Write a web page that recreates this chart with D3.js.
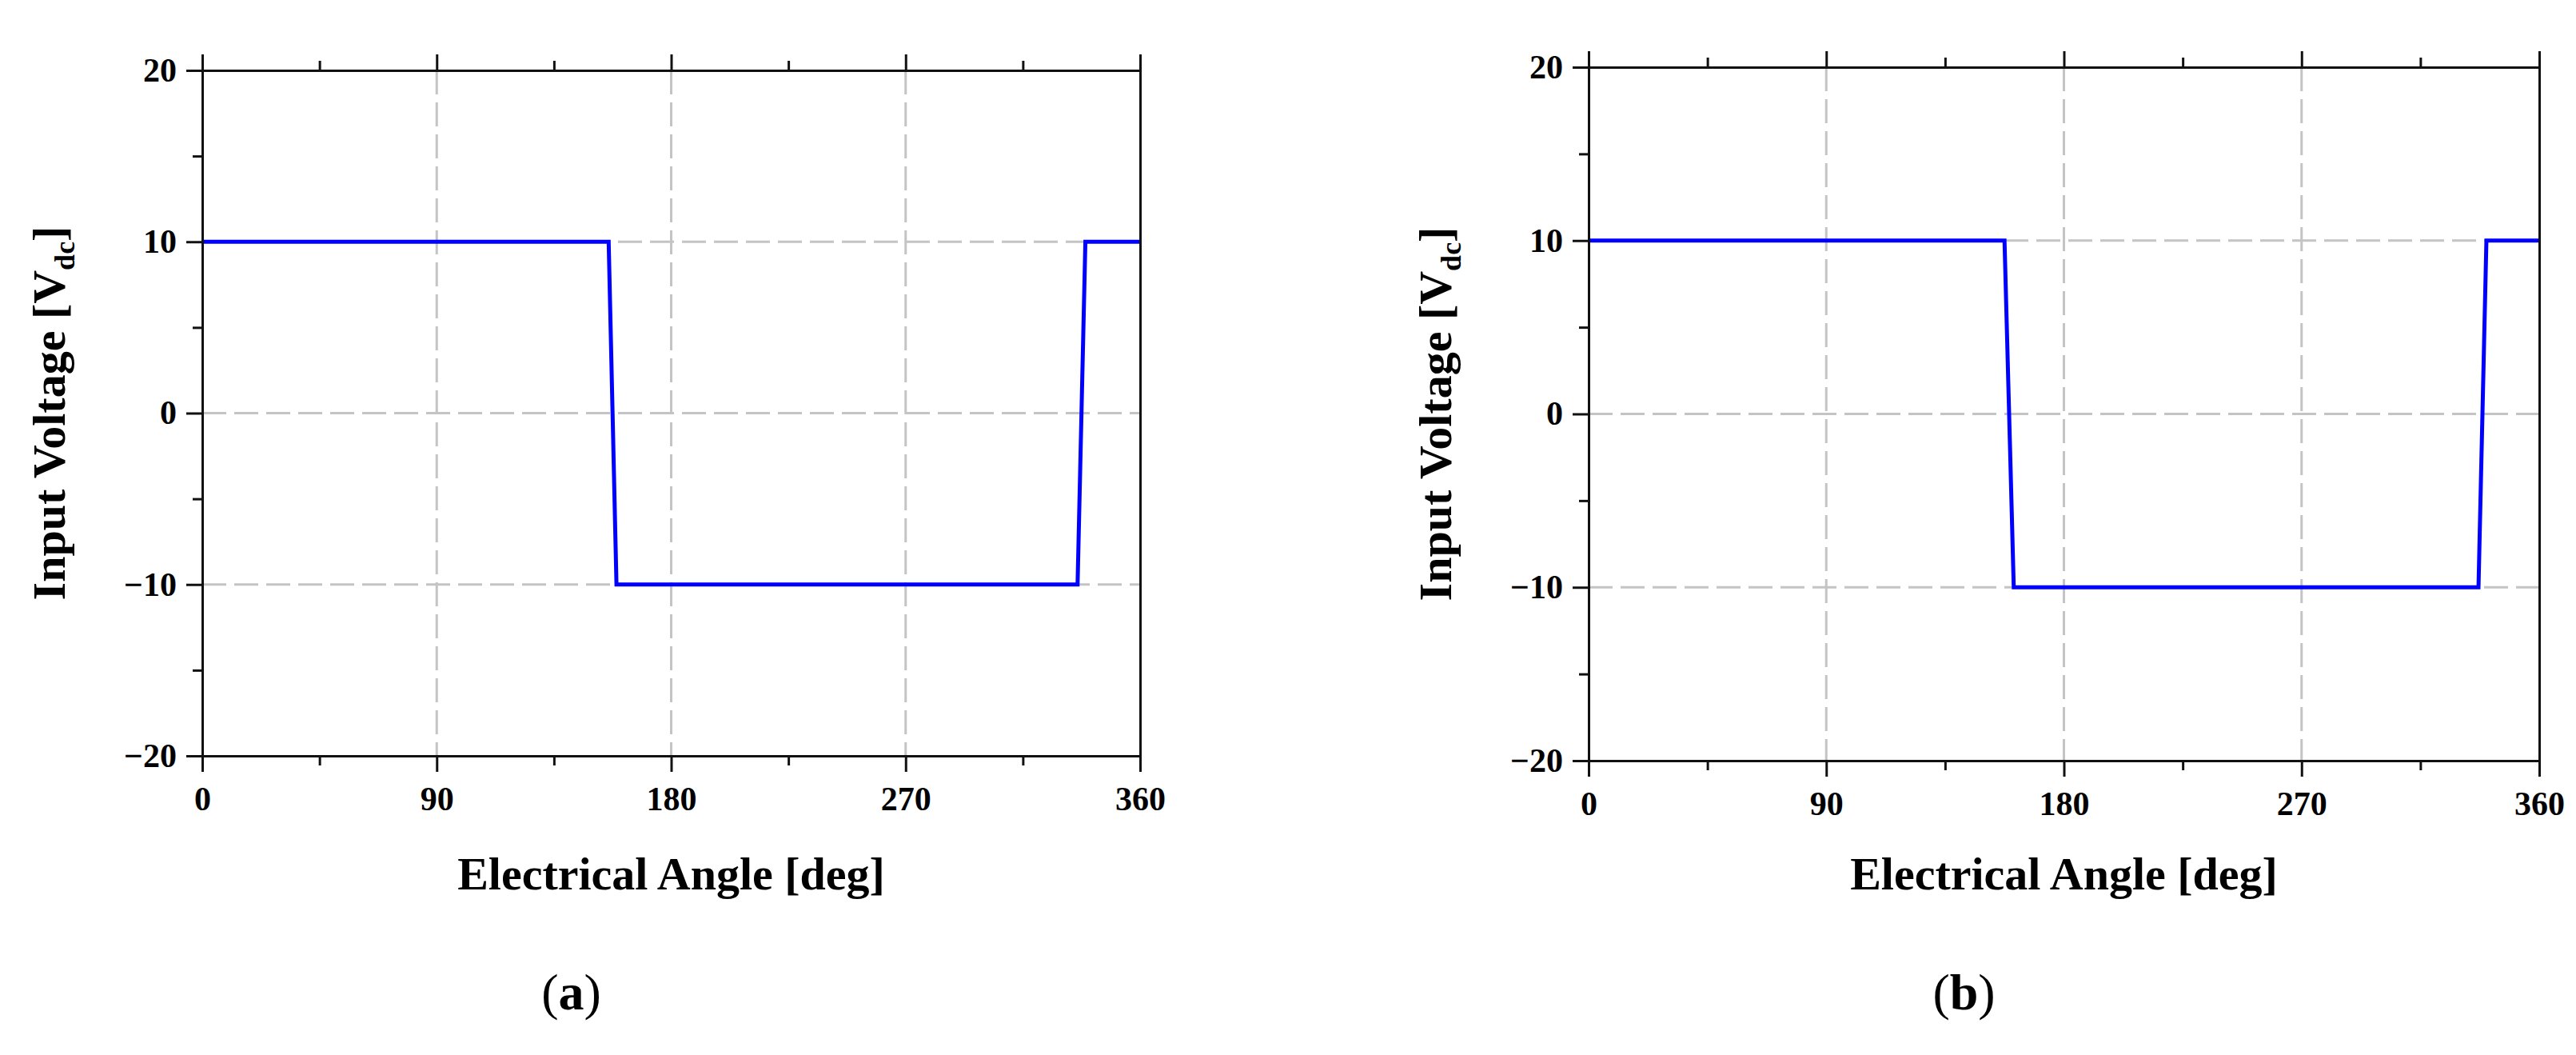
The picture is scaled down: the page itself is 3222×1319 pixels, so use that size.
<!DOCTYPE html>
<html><head><meta charset="utf-8">
<script src="https://cdn.jsdelivr.net/npm/d3@7"></script>
<style>body{margin:0;background:#fff}svg{display:block}</style>
</head><body>
<script>
const xTicks = [0, 90, 180, 270, 360];
const yTicks = [-20, -10, 0, 10, 20];
const gridX = [90, 180, 270];
const gridY = [-10, 0, 10];
const angleA = [0, 156, 159, 336, 339, 360];
const voltA  = [10, 10, -10, -10, 10, 10];
const angleB = [0, 157.5, 161, 337, 340, 360];
const voltB  = [10, 10, -10, -10, 10, 10];
const panels = [
  {label:"a", ang:angleA, v:voltA, box:[253,1426,88,945]},
  {label:"b", ang:angleB, v:voltB, box:[1987,3176,84,951]}
];
const svg = d3.select("body").append("svg").attr("width",3222).attr("height",1319);
const font = "Liberation Serif, Times New Roman, serif";
panels.forEach(p => {
  const [x0,x1,y0,y1] = p.box;
  const x = d3.scaleLinear().domain([0,360]).range([x0,x1]);
  const y = d3.scaleLinear().domain([-20,20]).range([y1,y0]);
  const g = svg.append("g");
  g.selectAll(".gx").data(gridX).join("line").attr("x1",d=>x(d)).attr("x2",d=>x(d)).attr("y1",y0).attr("y2",y1)
    .attr("stroke","#c4c4c4").attr("stroke-width",3).attr("stroke-dasharray","30,10");
  g.selectAll(".gy").data(gridY).join("line").attr("y1",d=>y(d)).attr("y2",d=>y(d)).attr("x1",x0).attr("x2",x1)
    .attr("stroke","#c4c4c4").attr("stroke-width",3).attr("stroke-dasharray","30,10");
  const pts = p.ang.map((a,i)=>[a,p.v[i]]);
  g.append("path").datum(pts).attr("d",d3.line().x(d=>x(d[0])).y(d=>y(d[1])))
    .attr("fill","none").attr("stroke","#0000ff").attr("stroke-width",5);
  const tickFmt = d3.format("d");
  const style = sel => { sel.select(".domain").attr("stroke","#111").attr("stroke-width",3);
    sel.selectAll(".tick line").attr("stroke","#111").attr("stroke-width",3);
    sel.selectAll("text").attr("font-family",font).attr("font-weight","bold").attr("font-size",42).attr("fill","#000"); };
  g.append("g").attr("transform",`translate(0,${y1})`)
    .call(d3.axisBottom(x).tickValues(xTicks).tickSize(20).tickSizeOuter(0).tickPadding(18).tickFormat(tickFmt)).call(style);
  g.append("g").attr("transform",`translate(0,${y1})`).call(d3.axisBottom(x).tickValues([45,135,225,315]).tickSize(12).tickFormat("")).call(style);
  g.append("g").attr("transform",`translate(0,${y0})`)
    .call(d3.axisTop(x).tickValues(xTicks).tickSize(20).tickSizeOuter(0).tickFormat("")).call(style);
  g.append("g").attr("transform",`translate(0,${y0})`).call(d3.axisTop(x).tickValues([45,135,225,315]).tickSize(12).tickFormat("")).call(style);
  g.append("g").attr("transform",`translate(${x0},0)`)
    .call(d3.axisLeft(y).tickValues(yTicks).tickSize(20).tickSizeOuter(0).tickPadding(12).tickFormat(tickFmt)).call(style);
  g.append("g").attr("transform",`translate(${x0},0)`).call(d3.axisLeft(y).tickValues([-15,-5,5,15]).tickSize(12).tickFormat("")).call(style);
  g.append("g").attr("transform",`translate(${x1},0)`)
    .call(d3.axisRight(y).tickValues([]).tickSizeOuter(0)).call(style);
  g.append("text").attr("x",(x0+x1)/2).attr("y",1112).attr("text-anchor","middle")
    .attr("font-family",font).attr("font-weight","bold").attr("font-size",58).text("Electrical Angle [deg]");
  const yt = g.append("text").attr("transform",`translate(${x0-172},${(y0+y1)/2}) rotate(-90)`).attr("text-anchor","middle")
    .attr("font-family",font).attr("font-weight","bold").attr("font-size",58);
  yt.append("tspan").text("Input Voltage [V");
  yt.append("tspan").attr("font-size",36).attr("dy",12).text("dc");
  yt.append("tspan").attr("dy",-12).text("]");
  const lt = g.append("text").attr("x",(x0+x1)/2 - 125).attr("y",1262).attr("text-anchor","middle")
    .attr("font-family",font).attr("font-size",64);
  lt.append("tspan").text("(");
  lt.append("tspan").attr("font-weight","bold").text(p.label);
  lt.append("tspan").text(")");
});
</script>
</body></html>
